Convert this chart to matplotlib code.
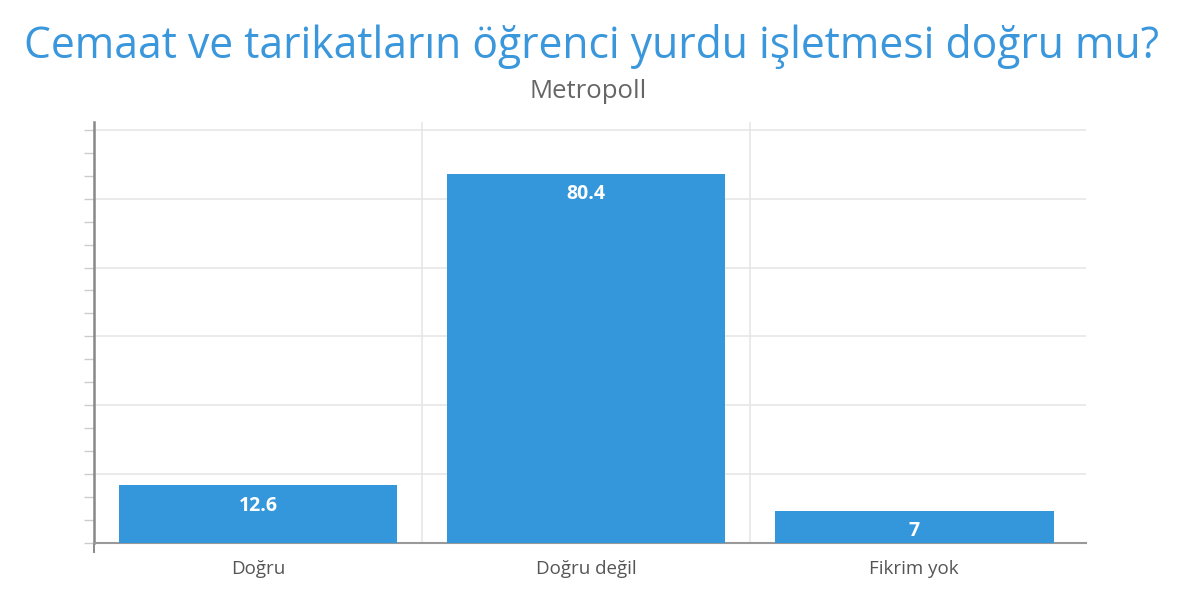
import matplotlib.pyplot as plt
from matplotlib.ticker import MultipleLocator

categories = ["Doğru", "Doğru değil", "Fikrim yok"]
values = [12.6, 80.4, 7]
labels = ["12.6", "80.4", "7"]

plt.rcParams['font.family'] = ['Open Sans', 'DejaVu Sans']

fig = plt.figure(figsize=(12, 5.95), dpi=100)
ax = fig.add_axes([0.0783, 0.0874, 0.8267, 0.7076])

x = range(len(categories))
bars = ax.bar(x, values, width=0.85, color="#3597db", zorder=3)

for b, lab in zip(bars, labels):
    ax.text(b.get_x() + b.get_width() / 2, b.get_height() - 2.3, lab,
            ha="center", va="top", color="white", fontsize=14, fontweight="bold", zorder=4)

ax.set_xlim(-0.5, 2.524)
ax.set_ylim(0, 91.7)

ax.set_xticks(list(x))
ax.set_xticklabels(categories, fontsize=13.5, color="#555555")
ax.tick_params(axis="x", length=0, pad=12)
ax.set_xticks([-0.5], minor=True)
ax.tick_params(axis="x", which="minor", length=7, color="#777777", width=1.2)

ax.yaxis.set_major_locator(MultipleLocator(15))
ax.yaxis.set_minor_locator(MultipleLocator(5))
ax.set_yticklabels([])
ax.tick_params(axis="y", which="both", length=7, color="#cccccc", width=1)
ax.grid(axis="y", which="major", color="#e6e6e6", linewidth=1.2, zorder=0)

for xb in [0.5, 1.5]:
    ax.axvline(xb, color="#e6e6e6", linewidth=1.2, zorder=0)

for s in ["top", "right"]:
    ax.spines[s].set_visible(False)
ax.spines["left"].set_color("#888888")
ax.spines["left"].set_linewidth(1.8)
ax.spines["bottom"].set_color("#999999")
ax.spines["bottom"].set_linewidth(1.5)

fig.text(0.4925, 0.9025, "Cemaat ve tarikatların öğrenci yurdu işletmesi doğru mu?",
         ha="center", va="baseline", fontsize=30.7, color="#3a97dc")
fig.text(0.49, 0.835, "Metropoll", ha="center", va="baseline", fontsize=18.5, color="#666666")

fig.savefig("out.png", dpi=100, facecolor="white")
